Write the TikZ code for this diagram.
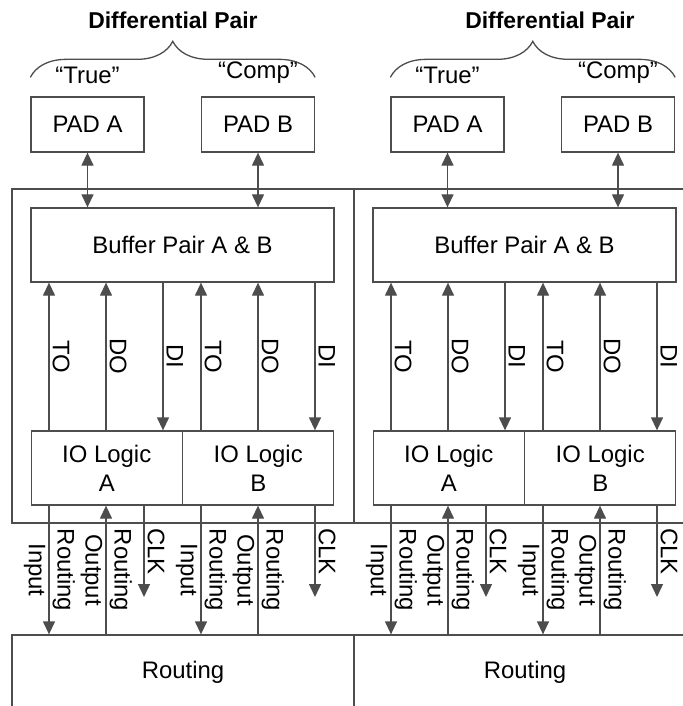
\documentclass[tikz,border=0pt]{standalone}
\usepackage{fontspec}
\setmainfont{Liberation Sans}
\usetikzlibrary{arrows.meta,positioning,decorations.pathreplacing}
\definecolor{linegray}{HTML}{4D4D4D}

\begin{document}
\begin{tikzpicture}[x=0.5bp,y=-0.5bp,>={Triangle[length=6.5bp,width=6bp]},line width=0.65bp,color=linegray,
    box/.style={draw,inner sep=0pt,text=black,align=center,font=\fontsize{12}{14.5}\selectfont},
    pad node/.style={box,minimum width=56.5bp,minimum height=27.5bp},
    buffer node/.style={box,minimum width=151.5bp,minimum height=37bp},
    logic node/.style={box,minimum width=75.5bp,minimum height=37bp},
    frame node/.style={draw,inner sep=0pt,minimum width=171bp,minimum height=167bp},
    routing node/.style={box,minimum width=171bp,minimum height=37bp},
    title node/.style={text=black,inner sep=0pt,font=\bfseries\fontsize{11.5}{14}\selectfont},
    tag node/.style={text=black,inner sep=0pt,font=\fontsize{12}{14}\selectfont},
    sig right/.style={rotate=-90,anchor=south,inner sep=1.5bp,text=black,font=\fontsize{12}{14}\selectfont},
    sig left/.style={sig right,anchor=north},
    sig low/.style={font=\fontsize{11.3}{13}\selectfont},
    pair brace/.style={decorate,decoration={brace,amplitude=18bp}}]
    \useasboundingbox (0,0) rectangle (683,706);
    \clip (0,0) rectangle (683,706);

    % frames and routing
    \node[frame node] (fr1) at (183,356) {};
    \node[frame node] (fr2) at (525,356) {};
    \node[routing node] (rt1) at (183,672) {Routing};
    \node[routing node] (rt2) at (525,672) {Routing};

    % left pair
    \node[pad node] (pa1) at (87.5,124.5) {PAD A};
    \node[pad node] (pb1) at (258,124.5) {PAD B};
    \node[tag node] (tr1) [above=6bp of pa1] {“True”};
    \node[tag node] (cp1) [above=6bp of pb1] {“Comp”};
    \node[title node] (dp1) at (173,20) {Differential Pair};
    \draw[pair brace] ([yshift=9.5bp]pa1.north west) -- ([yshift=9.5bp]pb1.north east);
    \node[buffer node] (bf1) at (182.5,245) {Buffer Pair A \& B};
    \node[logic node] (la1) at (106.75,468) {IO Logic\\A};
    \node[logic node] (lb1) at (258.25,468) {IO Logic\\B};

    % right pair
    \node[pad node] (pa2) at (447.5,124.5) {PAD A};
    \node[pad node] (pb2) at (618,124.5) {PAD B};
    \node[tag node] (tr2) [above=6bp of pa2] {“True”};
    \node[tag node] (cp2) [above=6bp of pb2] {“Comp”};
    \node[title node] (dp2) at (550,20) {Differential Pair};
    \draw[pair brace] ([yshift=9.5bp]pa2.north west) -- ([yshift=9.5bp]pb2.north east);
    \node[buffer node] (bf2) at (524.5,245) {Buffer Pair A \& B};
    \node[logic node] (la2) at (448.75,468) {IO Logic\\A};
    \node[logic node] (lb2) at (600.25,468) {IO Logic\\B};

    % signal columns
    \coordinate (c1) at (49,0);  \coordinate (c2) at (106,0);  \coordinate (c3) at (163,0);
    \coordinate (c4) at (201,0); \coordinate (c5) at (258,0);  \coordinate (c6) at (315,0);
    \coordinate (c7) at (391,0); \coordinate (c8) at (448,0);  \coordinate (c9) at (505,0);
    \coordinate (c10) at (543,0); \coordinate (c11) at (600,0); \coordinate (c12) at (657,0);
    \coordinate (ck1) at (144,597); \coordinate (ck2) at (315,597);
    \coordinate (ck3) at (486,597); \coordinate (ck4) at (657,597);

    \path[<->]
        (pa1.south) edge (bf1.north -| pa1.south)
        (pb1.south) edge (bf1.north -| pb1.south)
        (pa2.south) edge (bf2.north -| pa2.south)
        (pb2.south) edge (bf2.north -| pb2.south)
    ;
    \path[->]
        (la1.north -| c1) edge node (s1) [sig right] {TO} (bf1.south -| c1)
        (la1.north -| c2) edge node (s2) [sig right] {DO} (bf1.south -| c2)
        (bf1.south -| c3) edge node (s3) [sig right] {DI} (la1.north -| c3)
        (lb1.north -| c4) edge node (s4) [sig right] {TO} (bf1.south -| c4)
        (lb1.north -| c5) edge node (s5) [sig right] {DO} (bf1.south -| c5)
        (bf1.south -| c6) edge node (s6) [sig right] {DI} (lb1.north -| c6)
        (la2.north -| c7) edge node (s7) [sig right] {TO} (bf2.south -| c7)
        (la2.north -| c8) edge node (s8) [sig right] {DO} (bf2.south -| c8)
        (bf2.south -| c9) edge node (s9) [sig right] {DI} (la2.north -| c9)
        (lb2.north -| c10) edge node (s10) [sig right] {TO} (bf2.south -| c10)
        (lb2.north -| c11) edge node (s11) [sig right] {DO} (bf2.south -| c11)
        (bf2.south -| c12) edge node (s12) [sig right] {DI} (lb2.north -| c12)
    ;
    \path[->,every node/.style={sig low}]
        (la1.south -| c1) edge node (u1) [sig left] {Input} node (u2) [sig right] {Routing} (rt1.north -| c1)
        (rt1.north -| c2) edge node (u3) [sig left] {Output} node (u4) [sig right] {Routing} (la1.south -| c2)
        (la1.south -| ck1) edge node (u5) [sig right] {CLK} (ck1)
        (lb1.south -| c4) edge node (u6) [sig left] {Input} node (u7) [sig right] {Routing} (rt1.north -| c4)
        (rt1.north -| c5) edge node (u8) [sig left] {Output} node (u9) [sig right] {Routing} (lb1.south -| c5)
        (lb1.south -| ck2) edge node (u10) [sig right] {CLK} (ck2)
        (la2.south -| c7) edge node (u11) [sig left] {Input} node (u12) [sig right] {Routing} (rt2.north -| c7)
        (rt2.north -| c8) edge node (u13) [sig left] {Output} node (u14) [sig right] {Routing} (la2.south -| c8)
        (la2.south -| ck3) edge node (u15) [sig right] {CLK} (ck3)
        (lb2.south -| c10) edge node (u16) [sig left] {Input} node (u17) [sig right] {Routing} (rt2.north -| c10)
        (rt2.north -| c11) edge node (u18) [sig left] {Output} node (u19) [sig right] {Routing} (lb2.south -| c11)
        (lb2.south -| ck4) edge node (u20) [sig right] {CLK} (ck4)
    ;
\end{tikzpicture}
\end{document}
